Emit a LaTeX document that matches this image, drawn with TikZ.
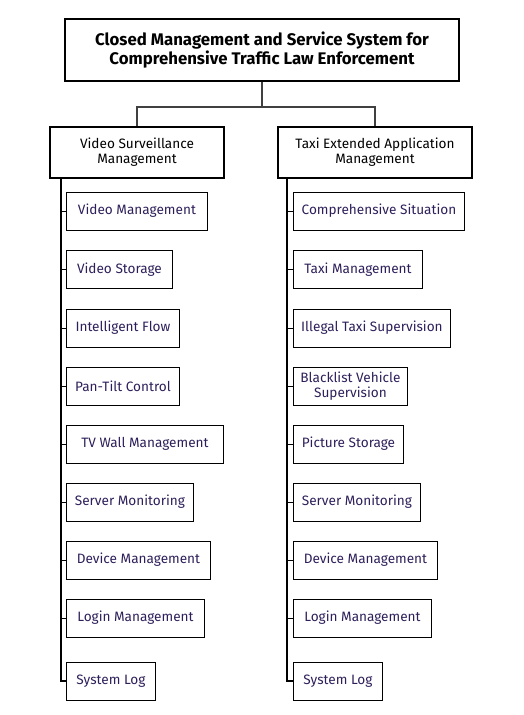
\documentclass[tikz,border=0pt]{standalone}
\usepackage{fontspec}
\setmainfont{Fira Sans}
\usepackage{xcolor}
\usepackage{tikz}
\usetikzlibrary{shapes,calc}
\definecolor{leafText}{HTML}{2E1F5A}
\definecolor{linkGray}{HTML}{404040}
\tikzstyle{tsTitle} = [ 
    rectangle,
    draw=black,
    line width=1.6pt,
    text=black,
    font=\bfseries\fontsize{16.8}{17}\selectfont,
    align=center
]
\tikzstyle{tsModule} = [ 
    rectangle,
    draw=black,
    line width=1.6pt,
    text=black,
    font=\fontsize{13.6}{15}\selectfont,
    align=center,
    minimum height=51
]
\tikzstyle{tsLeaf} = [ 
    rectangle,
    draw=black,
    line width=0.9pt,
    text=leafText,
    font=\fontsize{13.6}{15}\selectfont,
    align=center,
    inner sep=0pt,
    anchor=west,
    minimum height=38
]
\tikzstyle{tsLink} = [ 
    draw=linkGray,
    line width=2.6pt
]
\begin{document}
\begin{tikzpicture}[x=1pt, y=-1pt]

        \useasboundingbox (0,0) rectangle (524,715);

        \node[tsTitle, minimum width=394, minimum height=62] (system) at (262,50)
             {Closed Management and Service System for\\Comprehensive Traffic Law Enforcement};

        \node[tsModule, minimum width=174] (video) at (137,152.5) {Video Surveillance\\Management};
        \node[tsModule, minimum width=194] (taxi) at (375,152.5) {Taxi Extended Application\\Management};

        \draw[tsLink] (system.south) -- ++(0,25) -| (video.north);
        \draw[tsLink] (system.south) -- ++(0,25) -| (taxi.north);

        % video surveillance
        \node[tsLeaf, minimum width=141] (vManage) at (66,211) {Video Management};
        \node[tsLeaf, minimum width=106] (vStorage) at (66,269.5) {Video Storage};
        \node[tsLeaf, minimum width=113] (vFlow) at (66,328) {Intelligent Flow};
        \node[tsLeaf, minimum width=113] (vPtz) at (66,386) {Pan-Tilt Control};
        \node[tsLeaf, minimum width=157] (vWall) at (66,444) {TV Wall Management};
        \node[tsLeaf, minimum width=127] (vServer) at (66,502) {Server Monitoring};
        \node[tsLeaf, minimum width=144] (vDevice) at (66,560) {Device Management};
        \node[tsLeaf, minimum width=138] (vLogin) at (66,618) {Login Management};
        \node[tsLeaf, minimum width=89] (vLog) at (66,681) {System Log};

        % taxi extended application
        \node[tsLeaf, minimum width=171] (tSituation) at (293,211) {Comprehensive Situation};
        \node[tsLeaf, minimum width=129] (tManage) at (293,269.5) {Taxi Management};
        \node[tsLeaf, minimum width=157] (tIllegal) at (293,328) {Illegal Taxi Supervision};
        \node[tsLeaf, minimum width=114] (tBlack) at (293,386) {Blacklist Vehicle\\Supervision};
        \node[tsLeaf, minimum width=110] (tPicture) at (293,444) {Picture Storage};
        \node[tsLeaf, minimum width=127] (tServer) at (293,502) {Server Monitoring};
        \node[tsLeaf, minimum width=144] (tDevice) at (293,560) {Device Management};
        \node[tsLeaf, minimum width=138] (tLogin) at (293,618) {Login Management};
        \node[tsLeaf, minimum width=89] (tLog) at (293,681) {System Log};

        \coordinate (vTrunk) at (61,178);
        \coordinate (tTrunk) at (287,178);

        \draw[line width=1.2pt] (vTrunk) |- (vLog.west);
        \draw[line width=1.2pt] (tTrunk) |- (tLog.west);

        \foreach \leaf in {vManage,vStorage,vFlow,vPtz,vWall,vServer,vDevice,vLogin}
            \draw[line width=0.9pt] (vTrunk |- \leaf.west) -- (\leaf.west);
        \foreach \leaf in {tSituation,tManage,tIllegal,tBlack,tPicture,tServer,tDevice,tLogin}
            \draw[line width=0.9pt] (tTrunk |- \leaf.west) -- (\leaf.west);

\end{tikzpicture}
\end{document}
